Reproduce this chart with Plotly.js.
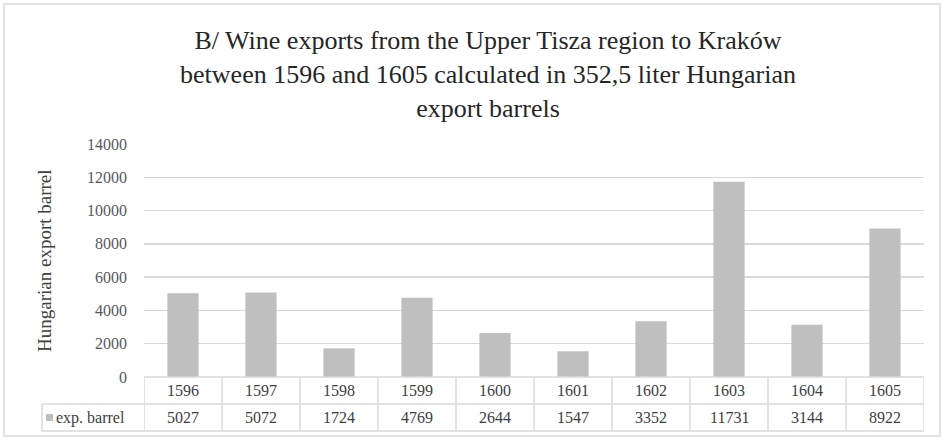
<!DOCTYPE html>
<html><head><meta charset="utf-8">
<script src="https://cdn.plot.ly/plotly-3.0.1.min.js"></script>
<style>body{margin:0;padding:0;background:#fff}#chart{width:944px;height:440px}</style>
</head><body><div id="chart"></div>
<script>
const years = ['1596','1597','1598','1599','1600','1601','1602','1603','1604','1605'];
const barrels = [5027, 5072, 1724, 4769, 2644, 1547, 3352, 11731, 3144, 8922];
const seriesName = 'exp. barrel';
const yTicks = [0, 2000, 4000, 6000, 8000, 10000, 12000, 14000];
const titleText = 'B/ Wine exports from the Upper Tisza region to Kraków<br>between 1596 and 1605 calculated in 352,5 liter Hungarian<br>export barrels';
const yTitle = 'Hungarian export barrel';

const W = 944, H = 440, L = 144, R = 20, T = 144, B = 63;
const pw = W - L - R, ph = H - T - B;
const px = v => (v - L) / pw;          // pixel x -> paper x
const py = v => (H - B - v) / ph;      // pixel y -> paper y

const lineC = '#d9d9d9';
const font = 'Liberation Serif';
const shapes = [];
const annotations = [];
const yRow1 = py(404), yBot = py(431), yLeft = px(42);

// outer border
shapes.push({type:'rect', xref:'paper', yref:'paper', x0:px(4), x1:px(940), y0:py(436), y1:py(4), line:{color:lineC, width:1.5}});
// table horizontal lines
shapes.push({type:'line', xref:'paper', yref:'paper', x0:0, x1:1, y0:0, y1:0, line:{color:lineC, width:1.5}});
shapes.push({type:'line', xref:'paper', yref:'paper', x0:yLeft, x1:1, y0:yRow1, y1:yRow1, line:{color:lineC, width:1.5}});
shapes.push({type:'line', xref:'paper', yref:'paper', x0:yLeft, x1:1, y0:yBot, y1:yBot, line:{color:lineC, width:1.5}});
shapes.push({type:'line', xref:'paper', yref:'paper', x0:yLeft, x1:yLeft, y0:yBot, y1:yRow1, line:{color:lineC, width:1.5}});
for (let i = 0; i <= years.length; i++) {
  shapes.push({type:'line', xref:'x', yref:'paper', x0:i-0.5, x1:i-0.5, y0:yBot, y1:0, line:{color:lineC, width:1.5}});
}
// legend swatch
shapes.push({type:'rect', xref:'paper', yref:'paper', x0:px(46), x1:px(53), y0:py(421), y1:py(414), fillcolor:'#bfbfbf', line:{width:0}});

const tf = {family:font, size:16, color:'#404040'};
years.forEach((yr, i) => {
  annotations.push({xref:'x', yref:'paper', x:i, y:(0 + yRow1)/2, text:yr, showarrow:false, font:tf, xanchor:'center', yanchor:'middle'});
  annotations.push({xref:'x', yref:'paper', x:i, y:(yRow1 + yBot)/2, text:String(barrels[i]), showarrow:false, font:tf, xanchor:'center', yanchor:'middle'});
});
annotations.push({xref:'paper', yref:'paper', x:px(54), y:(yRow1 + yBot)/2, text:seriesName, showarrow:false, font:tf, xanchor:'left', yanchor:'middle'});
annotations.push({xref:'paper', yref:'paper', x:px(44), y:py(261), text:yTitle, textangle:-90, showarrow:false, font:{family:font, size:19, color:'#404040'}, xanchor:'center', yanchor:'middle'});

const data = [{
  type:'bar', x:years, y:barrels, name:seriesName,
  marker:{color:'#bfbfbf', line:{width:0}}, hoverinfo:'x+y'
}];

const layout = {
  width:W, height:H,
  margin:{l:L, r:R, t:T, b:B, pad:0},
  paper_bgcolor:'#fff', plot_bgcolor:'#fff',
  font:{family:font},
  showlegend:false, bargap:0.6,
  title:{text:titleText, x:488/W, xref:'container', xanchor:'center', y:1 - 49/H, yref:'container', yanchor:'middle',
         font:{family:font, size:26, color:'#262626'}},
  xaxis:{type:'category', showticklabels:false, showgrid:false, zeroline:false, showline:false, ticks:'', range:[-0.5, 9.5], fixedrange:true},
  yaxis:{range:[0,14000], tickvals:yTicks, ticktext:yTicks.map(String), showgrid:true, gridcolor:lineC, gridwidth:1.5,
         zeroline:false, showline:false, ticks:'', ticklabelstandoff:16,
         tickfont:{family:font, size:16, color:'#595959'}, fixedrange:true},
  shapes:shapes, annotations:annotations
};
Plotly.newPlot('chart', data, layout, {displayModeBar:false, staticPlot:true});
</script></body></html>
